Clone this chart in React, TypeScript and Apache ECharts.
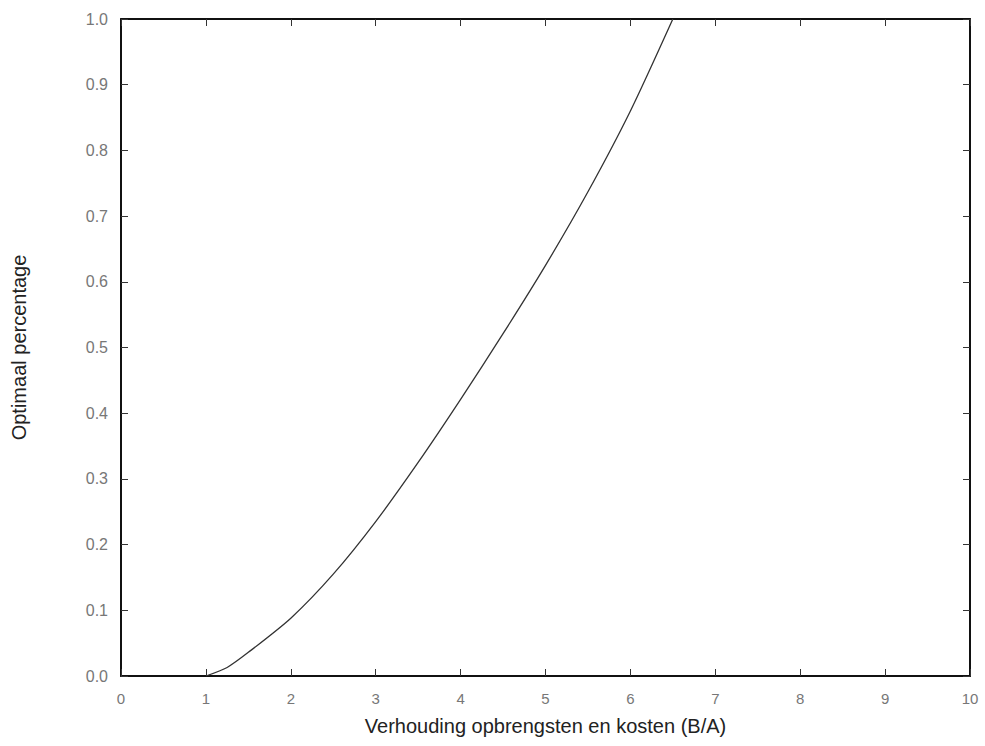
import React, { useEffect, useRef } from "react";
import * as echarts from "echarts";

const ratioValues = [1.0, 1.25, 1.5, 2.0, 2.5, 3.0, 3.5, 4.0, 4.5, 5.0, 5.5, 6.0, 6.5];
const optimalValues = [0.0, 0.013, 0.036, 0.088, 0.155, 0.235, 0.325, 0.421, 0.521, 0.625, 0.737, 0.86, 1.0];

const xTitle = "Verhouding opbrengsten en kosten (B/A)";
const yTitle = "Optimaal percentage";

export default function App() {
  const ref = useRef<HTMLDivElement>(null);
  useEffect(() => {
    if (!ref.current) return;
    const chart = echarts.init(ref.current, undefined, { renderer: "svg" });
    const data = ratioValues.map((x, i) => [x, optimalValues[i]]);
    const tickLabel = { color: "#777", fontFamily: "Liberation Sans, Arial, sans-serif", fontSize: 15 };
    const axisLine = { show: true, onZero: false, lineStyle: { color: "#111", width: 2 } };
    const axisTick = { show: true, inside: true, length: 7, lineStyle: { color: "#333", width: 1 } };
    chart.setOption({
      animation: false,
      backgroundColor: "#fff",
      grid: { left: 121, top: 19, right: 15, bottom: 70, containLabel: false },
      xAxis: [
        {
          type: "value",
          min: 0,
          max: 10,
          interval: 1,
          position: "bottom",
          name: xTitle,
          nameLocation: "middle",
          nameGap: 40,
          nameTextStyle: { color: "#222", fontFamily: "Liberation Sans, Arial, sans-serif", fontSize: 20 },
          axisLine,
          axisTick,
          axisLabel: { ...tickLabel, margin: 15, formatter: (v: number) => String(v) },
          splitLine: { show: false },
        },
        {
          type: "value",
          min: 0,
          max: 10,
          interval: 1,
          position: "top",
          axisLine,
          axisTick,
          axisLabel: { show: false },
          splitLine: { show: false },
        },
      ],
      yAxis: [
        {
          type: "value",
          min: 0,
          max: 1,
          interval: 0.1,
          position: "left",
          name: yTitle,
          nameLocation: "middle",
          nameGap: 92,
          nameTextStyle: { color: "#222", fontFamily: "Liberation Sans, Arial, sans-serif", fontSize: 20 },
          axisLine,
          axisTick,
          axisLabel: { ...tickLabel, fontSize: 16, margin: 13, formatter: (v: number) => v.toFixed(1) },
          splitLine: { show: false },
        },
        {
          type: "value",
          min: 0,
          max: 1,
          interval: 0.1,
          position: "right",
          axisLine,
          axisTick,
          axisLabel: { show: false },
          splitLine: { show: false },
        },
      ],
      series: [
        {
          type: "line",
          data,
          smooth: 0.25,
          showSymbol: false,
          lineStyle: { color: "#333", width: 1.3 },
          xAxisIndex: 0,
          yAxisIndex: 0,
        },
      ],
    });
    return () => chart.dispose();
  }, []);
  return (
    <div
      ref={ref}
      style={{ position: "fixed", left: 0, top: 0, width: 985, height: 746, background: "#fff" }}
    />
  );
}
